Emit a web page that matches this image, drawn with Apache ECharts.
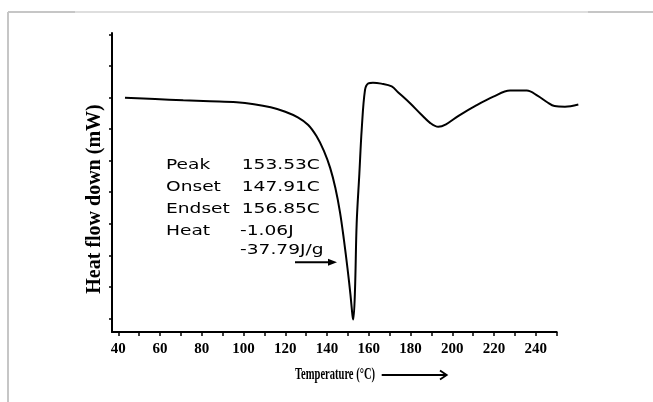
<!DOCTYPE html>
<html>
<head>
<meta charset="utf-8">
<title>DSC curve</title>
<script src="https://cdn.jsdelivr.net/npm/echarts@6/dist/echarts.min.js"></script>
<style>
    html, body { margin: 0; padding: 0; background: #fff; }
    #main { width: 653px; height: 402px; }
</style>
</head>
<body>
<div id="main"></div>
<script>
// temperature (°C) and heat flow (arbitrary mW units)
var temps = [43.2, 57.6, 71.1, 83.9, 96.7, 105, 113, 120, 126, 131, 135, 138.5,
    141.5, 144, 146.2, 148.1, 149.8, 151.2, 152.2, 152.6, 153.4, 154.2, 155.5, 156.6,
    158.2, 159.8, 162, 166, 171, 174, 179.8, 185, 189.5, 193.3, 197, 203,
    211.7, 219.7, 227.7, 235.7, 241, 245.5, 249, 254, 260.4];
var heatFlow = [7.42, 7.38, 7.34, 7.31, 7.28, 7.22, 7.12, 6.98, 6.80, 6.56, 6.20, 5.74,
    5.20, 4.56, 3.80, 2.92, 2.02, 1.20, 0.52, 0.40, 1.33, 3.44, 5.03, 6.40,
    7.67, 7.88, 7.90, 7.87, 7.78, 7.60, 7.25, 6.90, 6.62, 6.50, 6.58, 6.85,
    7.19, 7.46, 7.65, 7.65, 7.48, 7.28, 7.16, 7.14, 7.21];

var xTicks = [40, 50, 60, 70, 80, 90, 100, 110, 120, 130, 140, 150, 160, 170, 180, 190, 200, 210, 220, 230, 240, 250];
var xLabels = [40, 60, 80, 100, 120, 140, 160, 180, 200, 220, 240];
var yTicks = [0.43, 1.43, 2.43, 3.43, 4.43, 5.43, 6.43, 7.43, 8.43, 9.43];

var infoNames = ['Peak', 'Onset', 'Endset', 'Heat', ''];
var infoValues = ['153.53C', '147.91C', '156.85C', '-1.06J', '-37.79J/g'];

var points = [];
for (var i = 0; i < temps.length; i++) {
    points.push([temps[i], heatFlow[i]]);
}

// text block next to the peak
var rowY = [165.7, 187.7, 209.3, 231, 250];
var infoGraphics = [];
for (var k = 0; k < infoNames.length; k++) {
    var txtStyle = { fontFamily: 'DejaVu Sans', fontSize: 14, fill: '#000', textVerticalAlign: 'middle' };
    infoGraphics.push({
        type: 'text', x: 166, y: rowY[k], scaleX: 1.33,
        style: Object.assign({ text: infoNames[k] }, txtStyle)
    });
    infoGraphics.push({
        type: 'text', x: k >= 3 ? 240 : 241.7, y: rowY[k], scaleX: 1.33,
        style: Object.assign({ text: infoValues[k] }, txtStyle)
    });
}

var myChart = echarts.init(document.getElementById('main'));

var option = {
    backgroundColor: '#fff',
    animation: false,
    // grid 0 holds the curve (it runs a bit past the drawn axis), grid 1 holds the visible axes
    grid: [
        { left: 112, right: 73, top: 33, bottom: 70 },
        { left: 112, right: 96.3, top: 33, bottom: 70 }
    ],
    xAxis: [
        { type: 'value', gridIndex: 0, min: 36.98, max: 261.2, show: false },
        {
            type: 'value',
            gridIndex: 1,
            min: 36.98,
            max: 250,
            axisLine: { show: true, lineStyle: { color: '#000', width: 2 } },
            axisTick: { show: true, length: 4, customValues: xTicks, lineStyle: { color: '#000', width: 1.5 } },
            axisLabel: {
                customValues: xLabels,
                margin: 10,
                color: '#000',
                fontFamily: '"Liberation Serif", serif',
                fontWeight: 'bold',
                fontSize: 15
            },
            splitLine: { show: false }
        }
    ],
    yAxis: [
        { type: 'value', gridIndex: 0, min: 0, max: 9.474, show: false },
        {
            type: 'value',
            gridIndex: 1,
            min: 0,
            max: 9.474,
            axisLine: { show: true, lineStyle: { color: '#000', width: 2 } },
            axisTick: { show: true, length: 3, customValues: yTicks, lineStyle: { color: '#000', width: 1.5 } },
            axisLabel: { show: false },
            splitLine: { show: false }
        }
    ],
    graphic: [
        // photo frame
        { type: 'line', shape: { x1: 8, y1: 12, x2: 653, y2: 12 }, style: { stroke: '#c6c6c6', lineWidth: 2 } },
        { type: 'line', shape: { x1: 75, y1: 12, x2: 588, y2: 12 }, style: { stroke: '#dedede', lineWidth: 2 } },
        { type: 'line', shape: { x1: 8, y1: 12, x2: 8, y2: 402 }, style: { stroke: '#c6c6c6', lineWidth: 2 } },
        // y axis title
        {
            type: 'text', x: 95, y: 199, rotation: Math.PI / 2,
            style: {
                text: 'Heat flow down (mW)', fontFamily: '"Liberation Serif", serif', fontWeight: 'bold',
                fontSize: 20, fill: '#000', textAlign: 'center', textVerticalAlign: 'middle'
            }
        },
        // arrow to the peak
        { type: 'line', shape: { x1: 295, y1: 262.3, x2: 330, y2: 262.3 }, style: { stroke: '#000', lineWidth: 2 } },
        { type: 'polygon', shape: { points: [[337, 262.3], [328, 258.8], [328, 265.8]] }, style: { fill: '#000' } },
        // x axis title and arrow
        {
            type: 'text', x: 295, y: 375, scaleX: 0.62,
            style: {
                text: 'Temperature (°C)', fontFamily: '"Liberation Serif", serif', fontSize: 17,
                fontWeight: 'bold', fill: '#000', textVerticalAlign: 'middle'
            }
        },
        { type: 'line', shape: { x1: 381.7, y1: 375, x2: 446, y2: 375 }, style: { stroke: '#000', lineWidth: 2 } },
        { type: 'polyline', shape: { points: [[440, 370.5], [446.7, 375], [440, 379.5]] }, style: { stroke: '#000', lineWidth: 1.8, fill: null } }
    ].concat(infoGraphics),
    series: [
        {
            type: 'line',
            xAxisIndex: 0,
            yAxisIndex: 0,
            data: points,
            smooth: 0.35,
            showSymbol: false,
            symbol: 'none',
            lineStyle: { color: '#000', width: 2 }
        }
    ]
};

myChart.setOption(option);
</script>
</body>
</html>
